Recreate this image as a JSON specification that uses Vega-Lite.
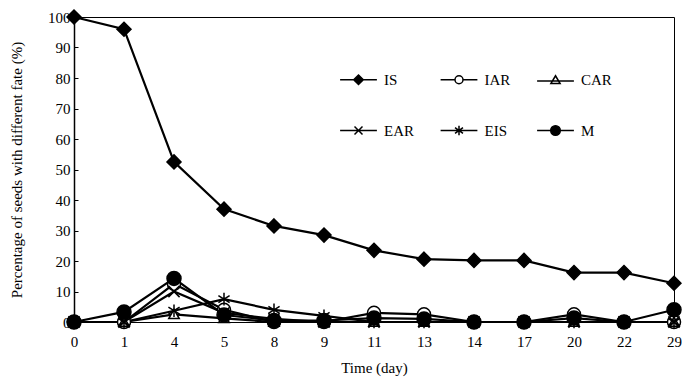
{
  "$schema": "https://vega.github.io/schema/vega-lite/v6.json",
  "width": 600,
  "height": 305,
  "autosize": {"type": "none"},
  "padding": {"left": 74, "top": 17, "right": 8, "bottom": 55},
  "background": "white",
  "config": {
    "view": {"stroke": "black", "strokeWidth": 1},
    "font": "Liberation Serif",
    "axis": {"labelFont": "Liberation Serif", "titleFont": "Liberation Serif", "labelColor": "black", "titleColor": "black", "labelFontSize": 15, "titleFontSize": 15, "titleFontWeight": "normal", "domainColor": "black", "tickColor": "black", "grid": false}
  },
  "data": {"values": [
    {"day": 0, "series": "IS", "value": 100},
    {"day": 1, "series": "IS", "value": 96},
    {"day": 4, "series": "IS", "value": 52.5},
    {"day": 5, "series": "IS", "value": 37},
    {"day": 8, "series": "IS", "value": 31.5},
    {"day": 9, "series": "IS", "value": 28.5},
    {"day": 11, "series": "IS", "value": 23.5},
    {"day": 13, "series": "IS", "value": 20.6},
    {"day": 14, "series": "IS", "value": 20.2},
    {"day": 17, "series": "IS", "value": 20.2},
    {"day": 20, "series": "IS", "value": 16.2},
    {"day": 22, "series": "IS", "value": 16.2},
    {"day": 29, "series": "IS", "value": 12.7},
    {"day": 0, "series": "IAR", "value": 0},
    {"day": 1, "series": "IAR", "value": 0},
    {"day": 4, "series": "IAR", "value": 12.5},
    {"day": 5, "series": "IAR", "value": 4},
    {"day": 8, "series": "IAR", "value": 0},
    {"day": 9, "series": "IAR", "value": 0},
    {"day": 11, "series": "IAR", "value": 3},
    {"day": 13, "series": "IAR", "value": 2.5},
    {"day": 14, "series": "IAR", "value": 0},
    {"day": 17, "series": "IAR", "value": 0},
    {"day": 20, "series": "IAR", "value": 2.5},
    {"day": 22, "series": "IAR", "value": 0},
    {"day": 29, "series": "IAR", "value": 0},
    {"day": 0, "series": "CAR", "value": 0},
    {"day": 1, "series": "CAR", "value": 0},
    {"day": 4, "series": "CAR", "value": 2.5},
    {"day": 5, "series": "CAR", "value": 1.2},
    {"day": 8, "series": "CAR", "value": 0},
    {"day": 9, "series": "CAR", "value": 0},
    {"day": 11, "series": "CAR", "value": 0},
    {"day": 13, "series": "CAR", "value": 0},
    {"day": 14, "series": "CAR", "value": 0},
    {"day": 17, "series": "CAR", "value": 0},
    {"day": 20, "series": "CAR", "value": 0},
    {"day": 22, "series": "CAR", "value": 0},
    {"day": 29, "series": "CAR", "value": 0},
    {"day": 0, "series": "EAR", "value": 0},
    {"day": 1, "series": "EAR", "value": 0},
    {"day": 4, "series": "EAR", "value": 10},
    {"day": 5, "series": "EAR", "value": 3},
    {"day": 8, "series": "EAR", "value": 1},
    {"day": 9, "series": "EAR", "value": 0},
    {"day": 11, "series": "EAR", "value": 0},
    {"day": 13, "series": "EAR", "value": 0},
    {"day": 14, "series": "EAR", "value": 0},
    {"day": 17, "series": "EAR", "value": 0},
    {"day": 20, "series": "EAR", "value": 0},
    {"day": 22, "series": "EAR", "value": 0},
    {"day": 29, "series": "EAR", "value": 0},
    {"day": 0, "series": "EIS", "value": 0},
    {"day": 1, "series": "EIS", "value": 0},
    {"day": 4, "series": "EIS", "value": 3.7},
    {"day": 5, "series": "EIS", "value": 7.5},
    {"day": 8, "series": "EIS", "value": 4},
    {"day": 9, "series": "EIS", "value": 2},
    {"day": 11, "series": "EIS", "value": 0},
    {"day": 13, "series": "EIS", "value": 0},
    {"day": 14, "series": "EIS", "value": 0},
    {"day": 17, "series": "EIS", "value": 0},
    {"day": 20, "series": "EIS", "value": 0},
    {"day": 22, "series": "EIS", "value": 0},
    {"day": 29, "series": "EIS", "value": 0},
    {"day": 0, "series": "M", "value": 0},
    {"day": 1, "series": "M", "value": 3.3},
    {"day": 4, "series": "M", "value": 14.3},
    {"day": 5, "series": "M", "value": 2.3},
    {"day": 8, "series": "M", "value": 0.5},
    {"day": 9, "series": "M", "value": 0.5},
    {"day": 11, "series": "M", "value": 1.3},
    {"day": 13, "series": "M", "value": 1},
    {"day": 14, "series": "M", "value": 0},
    {"day": 17, "series": "M", "value": 0},
    {"day": 20, "series": "M", "value": 1.3},
    {"day": 22, "series": "M", "value": 0},
    {"day": 29, "series": "M", "value": 4}
  ]},
  "encoding": {
    "x": {
      "field": "day", "type": "ordinal",
      "scale": {"type": "point", "padding": 0},
      "axis": {"title": "Time (day)", "labelAngle": 0, "ticks": false, "labelPadding": 12, "titlePadding": 11, "domainWidth": 1}
    },
    "y": {
      "field": "value", "type": "quantitative",
      "scale": {"domain": [0, 100], "nice": false},
      "axis": {"title": "Percentage of seeds with different fate (%)", "values": [0,10,20,30,40,50,60,70,80,90,100], "tickSize": -4, "labelPadding": 8, "titlePadding": 23, "domainWidth": 1.5}
    }
  },
  "layer": [
    {
      "mark": {"type": "line", "color": "black", "strokeWidth": 2.2},
      "encoding": {"detail": {"field": "series"}}
    },
    {
      "mark": {"type": "point", "stroke": "black", "strokeWidth": 1.5, "opacity": 1, "size": 196},
      "encoding": {
        "shape": {
          "field": "series", "type": "nominal", "legend": null,
          "scale": {
            "domain": ["IS", "IAR", "CAR", "EAR", "EIS", "M"],
            "range": ["M0,-1L1,0L0,1L-1,0Z", "M0.93,0A0.93,0.93 0 1,1 -0.93,0A0.93,0.93 0 1,1 0.93,0Z", "M0,-0.7L0.75,0.6H-0.75Z", "M-0.8,-0.8L0.8,0.8M-0.8,0.8L0.8,-0.8", "M-0.8,-0.5L0.8,0.5M-0.8,0.5L0.8,-0.5M0,-0.9V0.9", "circle"]
          }
        },
        "fill": {
          "condition": [
            {"test": "datum.series === 'IS' || datum.series === 'M'", "value": "black"},
            {"test": "datum.series === 'EAR' || datum.series === 'EIS'", "value": "transparent"}
          ],
          "value": "white"
        }
      }
    },
    {
      "mark": {"type": "point", "strokeWidth": 1.5, "opacity": 1, "size": 0, "filled": false},
      "encoding": {
        "shape": {
          "field": "series", "type": "nominal",
          "scale": {
            "domain": ["IS", "IAR", "CAR", "EAR", "EIS", "M"],
            "range": ["M-4.6,0H4.6M0,-1.2L1.2,0L0,1.2L-1.2,0Z", "M-4.6,0H-1M1,0H4.6M1,0A1,1 0 1,1 -1,0A1,1 0 1,1 1,0Z", "M-4.6,0.3H4.6M0,-1L1.15,0.95H-1.15Z", "M-4.6,0H4.6M-1,-1L1,1M-1,1L1,-1", "M-4.6,0H4.6M-1,-0.7L1,0.7M-1,0.7L1,-0.7M0,-1.2V1.2", "M-4.6,0H4.6M1.2,0A1.2,1.2 0 1,1 -1.2,0A1.2,1.2 0 1,1 1.2,0Z"]
          },
          "legend": {
            "orient": "none", "legendX": 263, "legendY": 55, "direction": "horizontal", "columns": 3, "title": null,
            "labelFont": "Liberation Serif", "labelFontSize": 15, "labelColor": "black",
            "symbolSize": 64, "labelOffset": 18, "rowPadding": 34, "columnPadding": 23.5, "symbolOffset": 14,
            "symbolStrokeColor": "black", "symbolStrokeWidth": 1.5, "symbolOpacity": 1
          }
        },
        "stroke": {
          "field": "series", "type": "nominal",
          "scale": {"domain": ["IS", "IAR", "CAR", "EAR", "EIS", "M"], "range": ["black", "black", "black", "black", "black", "black"]}
        },
        "fill": {
          "field": "series", "type": "nominal",
          "scale": {"domain": ["IS", "IAR", "CAR", "EAR", "EIS", "M"], "range": ["black", "white", "white", "transparent", "transparent", "black"]}
        }
      }
    }
  ],
  "resolve": {"scale": {"shape": "independent", "fill": "independent", "stroke": "independent"}}
}
